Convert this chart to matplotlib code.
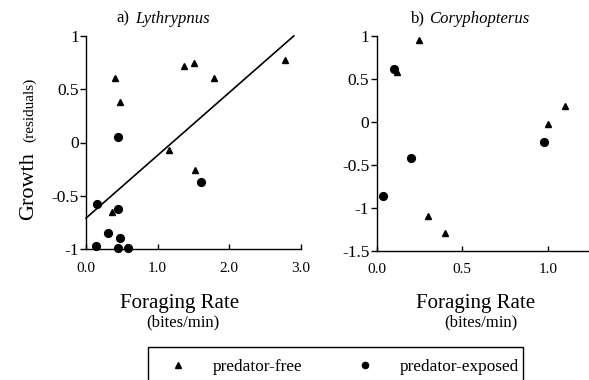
import matplotlib
matplotlib.use("Agg")
import matplotlib.pyplot as plt
from matplotlib.lines import Line2D
from matplotlib.patches import Rectangle
import numpy as np

plt.rcParams['font.family'] = ['Liberation Serif', 'DejaVu Serif']

# ---- data: a) Lythrypnus ----
lyth_free_x = [0.41, 0.48, 1.37, 1.51, 1.79, 2.77, 1.16, 1.52, 0.36]
lyth_free_y = [0.61, 0.38, 0.72, 0.75, 0.61, 0.77, -0.07, -0.26, -0.65]
lyth_exp_x = [0.45, 0.16, 0.44, 0.30, 0.48, 0.14, 0.44, 0.58, 1.61]
lyth_exp_y = [0.05, -0.58, -0.62, -0.85, -0.90, -0.97, -0.99, -0.99, -0.37]
reg_intercept = -0.71
reg_slope = 0.59
reg_x = [0.0, 2.9]

# ---- data: b) Coryphopterus ----
cory_free_x = [0.25, 0.12, 0.30, 0.40, 1.00, 1.10]
cory_free_y = [0.95, 0.58, -1.10, -1.29, -0.02, 0.18]
cory_exp_x = [0.10, 0.20, 0.035, 0.975]
cory_exp_y = [0.61, -0.42, -0.86, -0.23]

# ---- tick labels ----
lyth_xticks = [0.0, 1.0, 2.0, 3.0]
lyth_xlabels = ['0.0', '1.0', '2.0', '3.0']
lyth_yticks = [-1, -0.5, 0, 0.5, 1]
lyth_ylabels = ['-1', '-0.5', '0', '0.5', '1']
cory_xticks = [0.0, 0.5, 1.0]
cory_xlabels = ['0.0', '0.5', '1.0']
cory_yticks = [-1.5, -1, -0.5, 0, 0.5, 1]
cory_ylabels = ['-1.5', '-1', '-0.5', '0', '0.5', '1']

W, H = 589, 380
fig = plt.figure(figsize=(W / 100, H / 100), dpi=100)


def fx(px):
    return px / W


def fy(py):
    return 1 - py / H


axL = fig.add_axes([fx(86), fy(249), (301 - 86) / W, (249 - 36) / H])
axR = fig.add_axes([fx(376.5), fy(250.7), (589 - 376.5) / W, (250.7 - 36) / H])

tri_ms = 5.0
dot_ms = 5.6

for ax in (axL, axR):
    for s in ('top', 'right'):
        ax.spines[s].set_visible(False)
    for s in ('left', 'bottom'):
        ax.spines[s].set_linewidth(1.0)
    ax.tick_params(axis='x', direction='in', length=3.8, width=1.0, pad=9,
                   labelsize=11)
    ax.tick_params(axis='y', direction='out', length=4.2, width=1.0, pad=1,
                   labelsize=12.5)

# left panel
axL.plot(lyth_free_x, lyth_free_y, linestyle='none', marker='^', ms=tri_ms,
         color='black', clip_on=False)
axL.plot(lyth_exp_x, lyth_exp_y, linestyle='none', marker='o', ms=dot_ms,
         color='black', clip_on=False)
rx = np.array(reg_x)
axL.plot(rx, reg_intercept + reg_slope * rx, color='black', lw=1.2,
         clip_on=False)
axL.set_xlim(0, 3.0)
axL.set_ylim(-1, 1)
axL.set_xticks(lyth_xticks)
axL.set_xticklabels(lyth_xlabels)
axL.set_yticks(lyth_yticks)
axL.set_yticklabels(lyth_ylabels)

# right panel
axR.plot(cory_free_x, cory_free_y, linestyle='none', marker='^', ms=tri_ms,
         color='black', clip_on=False)
axR.plot(cory_exp_x, cory_exp_y, linestyle='none', marker='o', ms=dot_ms,
         color='black', clip_on=False)
axR.set_xlim(0, (589 - 376.5) / 171.7)
axR.set_ylim(-1.5, 1)
axR.set_xticks(cory_xticks)
axR.set_xticklabels(cory_xlabels)
axR.set_yticks(cory_yticks)
axR.set_yticklabels(cory_ylabels)

# titles
fig.text(fx(116.7), fy(22.7), 'a)', fontsize=12, ha='left', va='baseline')
fig.text(fx(135.5), fy(22.7), 'Lythrypnus', fontsize=12, style='italic',
         ha='left', va='baseline')
fig.text(fx(410.7), fy(22.7), 'b)', fontsize=12, ha='left', va='baseline')
fig.text(fx(429.3), fy(22.7), 'Coryphopterus', fontsize=12, style='italic',
         ha='left', va='baseline')

# y label
fig.text(fx(33), fy(220), 'Growth', fontsize=16, rotation=90,
         rotation_mode='anchor', ha='left', va='baseline')
fig.text(fx(33), fy(142), '(residuals)', fontsize=11, rotation=90,
         rotation_mode='anchor', ha='left', va='baseline')

# x labels
for cx, cx2 in ((180, 183), (476, 481)):
    fig.text(fx(cx), fy(307.7), 'Foraging Rate', fontsize=15, ha='center',
             va='baseline')
    fig.text(fx(cx2), fy(326.7), '(bites/min)', fontsize=12, ha='center',
             va='baseline')

# legend
fig.patches.append(Rectangle((fx(148), fy(400)), (523 - 148) / W,
                             (400 - 347) / H, transform=fig.transFigure,
                             fill=False, edgecolor='black', lw=1.0,
                             clip_on=False))
handles = [
    Line2D([], [], linestyle='none', marker='^', ms=4, color='black'),
    Line2D([], [], linestyle='none', marker='o', ms=4.5, color='black'),
]
fig.legend(handles, ['predator-free', 'predator-exposed'], ncol=2,
           frameon=False, loc='center left',
           bbox_to_anchor=(fx(169.4), fy(367)), borderaxespad=0,
           borderpad=0, fontsize=12.4, handlelength=1.0,
           handletextpad=1.53, columnspacing=3.1)

fig.savefig('out.png', dpi=100)
